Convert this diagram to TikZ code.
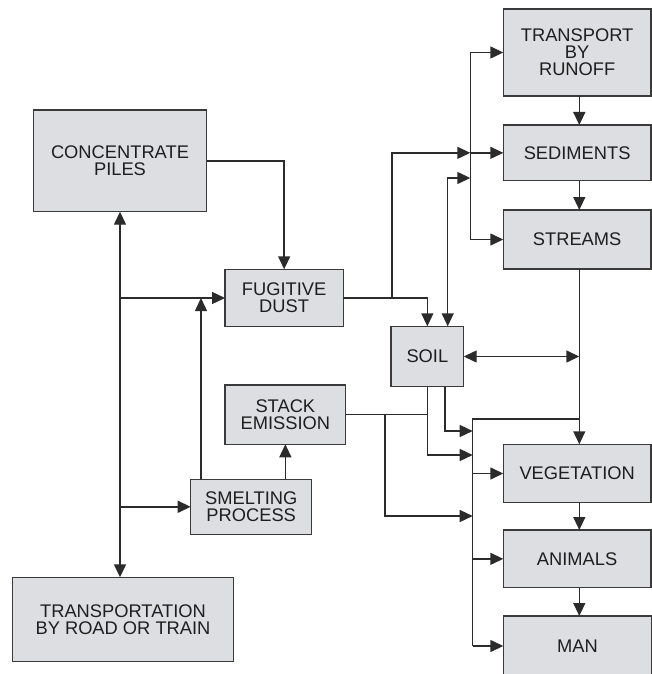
\documentclass[tikz,border=0pt]{standalone}
\usepackage{fontspec}
\setmainfont{Liberation Sans}
\usetikzlibrary{arrows.meta}
\definecolor{boxfill}{HTML}{DDDEE1}
\definecolor{boxline}{HTML}{3A3A3A}
\definecolor{linecol}{HTML}{2B2B2B}
\definecolor{txt}{HTML}{1E1E1E}
\tikzset{
  box/.style={draw=boxline, fill=boxfill, line width=1.5pt, rectangle, inner sep=0pt, outer sep=0pt,
    anchor=north west, align=center, text=txt, font=\fontsize{18.3}{17}\selectfont},
  conn/.style={draw=linecol, line width=1.4pt},
  arr/.style={conn, -{Triangle[length=13pt,width=12pt]}},
  darr/.style={conn, {Triangle[length=13pt,width=12pt]}-{Triangle[length=13pt,width=12pt]}},
}
\begin{document}
\begin{tikzpicture}[x=1pt,y=-1pt]
\useasboundingbox (0,0) rectangle (652,674);
\clip (0,0) rectangle (652,674);
% boxes
\node[box, minimum width=147.7pt, minimum height=87pt]   (run)  at (503.3,9)     {TRANSPORT\\BY\\RUNOFF};
\node[box, minimum width=147.7pt, minimum height=55.7pt] (sed)  at (503.3,125)   {SEDIMENTS};
\node[box, minimum width=147.7pt, minimum height=59pt]   (str)  at (503.3,210)   {STREAMS};
\node[box, minimum width=173.4pt, minimum height=101.7pt](conc) at (33.3,110)    {CONCENTRATE\\PILES};
\node[box, minimum width=118.3pt, minimum height=57.4pt] (fug)  at (225,269.3)   {FUGITIVE\\DUST};
\node[box, minimum width=72.7pt,  minimum height=60.4pt] (soil) at (391,326.3)   {SOIL};
\node[box, minimum width=120.7pt, minimum height=59.3pt] (stack)at (225,385)     {STACK\\EMISSION};
\node[box, minimum width=121pt,   minimum height=55pt]   (smelt)at (190.7,479.3) {SMELTING\\PROCESS};
\node[box, minimum width=220.6pt, minimum height=84.4pt] (trans)at (12.7,577.3)  {TRANSPORTATION\\BY ROAD OR TRAIN};
\node[box, minimum width=147.7pt, minimum height=58.4pt] (veg)  at (503.3,444.3) {VEGETATION};
\node[box, minimum width=147.7pt, minimum height=57.7pt] (ani)  at (503.3,530)   {ANIMALS};
\node[box, minimum width=148.2pt, minimum height=60pt]   (man)  at (503.3,616)   {MAN};
% helper coordinates
\coordinate (bus)  at (470.3,0);
\coordinate (bus2) at (472.7,0);
\coordinate (col)  at (579.3,0);
\coordinate (fj)   at (392,298);
\coordinate (sb)   at (447.7,178);
\coordinate (sm1)  at (201,479.3);
\coordinate (b2top) at (472.7,419);
\coordinate (s2)   at (445,431);
\coordinate (a455) at (472.7,455);
\coordinate (sk)   at (385,516);
% left part
\draw[arr] (conc.east) -| (fug.north);
\draw[darr] (conc.south) -- (conc.south |- trans.north);
\draw[arr] (conc.south |- fug.west) -- (fug.west);
\draw[arr] (conc.south |- smelt.west) -- (smelt.west);
\draw[arr] (sm1) -- (sm1 |- fug.west);
\draw[arr] (smelt.north -| stack.south) -- (stack.south);
% fugitive dust outputs
\draw[arr] (fug.east) -| (soil.north);
\draw[arr] (fj) |- (bus |- sed.west);
% top bus
\draw[conn] (bus |- run.west) -- (bus |- str.west);
\draw[arr] (bus |- run.west) -- (run.west);
\draw[arr] (bus |- sed.west) -- (sed.west);
\draw[arr] (bus |- str.west) -- (str.west);
\draw[darr] (soil.north -| sb) |- (bus |- sb);
% right column
\draw[arr] (col |- run.south) -- (col |- sed.north);
\draw[arr] (col |- sed.south) -- (col |- str.north);
\draw[arr] (col |- str.south) -- (col |- veg.north);
\draw[arr] (col |- veg.south) -- (col |- ani.north);
\draw[arr] (col |- ani.south) -- (col |- man.north);
\draw[darr] (soil.east) -- (col |- soil.east);
% lower bus
\draw[conn] (col |- b2top) -- (b2top) -- (bus2 |- man.west);
\draw[arr] (bus2 |- veg.west) -- (veg.west);
\draw[arr] (bus2 |- ani.west) -- (ani.west);
\draw[arr] (bus2 |- man.west) -- (man.west);
\draw[arr] (soil.south -| s2) |- (bus2 |- s2);
\draw[arr] (soil.south) |- (a455);
\draw[conn] (stack.east) -- (stack.east -| soil.south);
\draw[arr] (stack.east -| sk) |- (bus2 |- sk);
\end{tikzpicture}
\end{document}
